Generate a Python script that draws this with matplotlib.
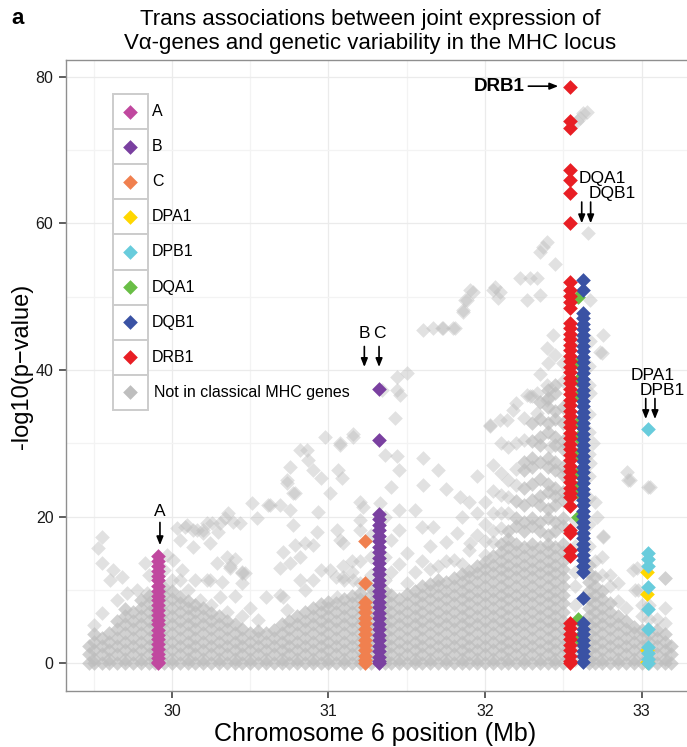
import matplotlib
matplotlib.use("Agg")
import matplotlib.pyplot as plt
from matplotlib.patches import Rectangle

plt.rcParams["font.family"] = ["Liberation Sans", "DejaVu Sans"]

# ---- classical MHC genes: position (Mb) and -log10(p) of their SNPs ----
gene_names = ["A", "B", "C", "DPA1", "DPB1", "DQA1", "DQB1", "DRB1"]
gene_colors = ["#C0489F", "#7A40A0", "#F0804F", "#FFD700",
               "#68CCDC", "#69BE46", "#3A52A4", "#E81E24"]
gene_pos = [29.909, 31.323, 31.235, 33.035, 33.040, 32.592, 32.624, 32.546]

A_vals = [14.6, 14.0, 13.3, 12.6, 11.9, 11.3, 10.6, 9.9, 9.2, 8.6, 7.9, 7.2,
          6.6, 5.9, 5.3, 4.6, 3.9, 3.3, 2.6, 2.0, 1.3, 0.7, 0.2, 0.0]
B_vals = [37.4, 30.4, 20.4, 19.7, 18.9, 18.2, 17.4, 16.7, 15.9, 15.2, 14.4,
          13.7, 12.9, 12.2, 11.4, 10.7, 9.9, 9.2, 8.4, 7.7, 6.9, 6.2, 5.4,
          4.7, 3.9, 3.2, 2.4, 1.7, 0.9, 0.3, 0.0]
C_vals = [16.7, 10.9, 8.4, 7.7, 7.0, 6.2, 5.5, 4.7, 4.0, 3.2, 2.5, 1.8, 1.0,
          0.4, 0.0]
DPA1_vals = [12.5, 9.5, 1.8, 0.2]
DPB1_vals = [32.0, 15.0, 14.2, 13.3, 10.4, 7.4, 4.7, 2.2, 1.4, 0.6, 0.0]
DQA1_vals = [50.0, 40.9, 38.6, 36.4, 32.7, 30.9, 28.6, 25.9, 24.1, 23.2, 20.0,
             6.1, 3.4]
DQB1_vals = [52.3, 50.9, 47.8, 47.1, 46.3, 45.6, 44.8, 44.1, 43.3, 42.6, 41.8,
             41.1, 40.3, 39.6, 38.8, 38.1, 37.3, 36.6, 35.8, 35.1, 34.3, 33.6,
             32.8, 32.1, 31.3, 30.6, 29.8, 29.1, 28.3, 27.6, 26.8, 26.1, 25.3,
             24.6, 23.8, 23.1, 22.3, 21.6, 20.8, 20.1, 19.3, 18.6, 17.8, 17.1,
             16.3, 15.6, 14.8, 14.1, 13.3, 12.4, 8.9, 5.5, 4.7, 4.0, 3.2, 2.5,
             1.7, 1.0, 0.2]
DRB1_vals = [78.6, 73.9, 73.0, 67.3, 65.9, 64.2, 60.1, 52.0, 50.9, 50.1, 49.3,
             48.5, 46.4, 45.7, 44.9, 44.2, 43.4, 42.7, 41.9, 41.2, 40.4, 39.7,
             38.9, 38.2, 37.4, 36.7, 35.9, 35.2, 34.4, 33.7, 32.9, 32.2, 31.4,
             30.7, 29.9, 29.2, 28.4, 27.7, 26.9, 26.2, 25.4, 24.7, 23.9, 23.2,
             22.7, 21.4, 18.2, 17.8, 15.5, 14.6, 5.5, 4.8, 4.0, 3.3, 2.5, 1.8,
             1.0, 0.3, 0.0]
gene_vals = [A_vals, B_vals, C_vals, DPA1_vals, DPB1_vals, DQA1_vals,
             DQB1_vals, DRB1_vals]

# ---- SNPs outside classical genes: dense low band, read column by column ----
floor_x = [29.47, 29.50, 29.55, 29.60, 29.65, 29.70, 29.75, 29.80, 29.85,
           29.89, 29.95, 30.00, 30.05, 30.10, 30.15, 30.20, 30.25, 30.30,
           30.35, 30.40, 30.45, 30.50, 30.55, 30.60, 30.65, 30.70, 30.75,
           30.80, 30.85, 30.90, 30.95, 31.00, 31.05, 31.10, 31.15, 31.20,
           31.27, 31.36, 31.40, 31.45, 31.50, 31.55, 31.60, 31.65, 31.70,
           31.75, 31.80, 31.85, 31.90, 31.95, 32.00, 32.05, 32.10, 32.15,
           32.20, 32.25, 32.30, 32.35, 32.40, 32.45, 32.50, 32.665, 32.70,
           32.75, 32.80, 32.85, 32.90, 32.95, 33.00, 33.05, 33.10, 33.15,
           33.19]
floor_y = [
    [0.0, 1.2, 2.3],
    [0.0, 0.6, 1.8, 2.9, 4.0],
    [0.0, 1.2, 2.3, 3.4],
    [0.0, 0.6, 1.8, 2.9, 4.1],
    [0.0, 1.2, 2.3, 3.5, 4.7, 5.7],
    [0.0, 0.6, 1.8, 2.9, 4.1, 5.3, 6.4, 7.4],
    [0.0, 1.2, 2.3, 3.5, 4.7, 5.8, 7.0],
    [0.0, 0.6, 1.8, 2.9, 4.1, 5.3, 6.4, 7.6, 8.6],
    [0.0, 1.2, 2.3, 3.5, 4.7, 5.8, 7.0, 8.2, 9.2],
    [0.0, 0.6, 1.8, 2.9, 4.1, 5.3, 6.4, 7.4],
    [0.0, 1.2, 2.3, 3.5, 4.7, 5.8, 7.0, 8.2, 9.3, 10.4],
    [0.0, 0.6, 1.8, 2.9, 4.1, 5.3, 6.4, 7.6, 8.8, 9.8],
    [0.0, 1.2, 2.3, 3.5, 4.7, 5.8, 7.0, 8.2, 9.1],
    [0.0, 0.6, 1.8, 2.9, 4.1, 5.3, 6.4, 7.6, 8.5],
    [0.0, 1.2, 2.3, 3.5, 4.7, 5.8, 7.0, 8.0],
    [0.0, 0.6, 1.8, 2.9, 4.1, 5.3, 6.4, 7.6],
    [0.0, 1.2, 2.3, 3.5, 4.7, 5.8, 6.9],
    [0.0, 0.6, 1.8, 2.9, 4.1, 5.3, 6.4],
    [0.0, 1.2, 2.3, 3.5, 4.7, 5.8],
    [0.0, 0.6, 1.8, 2.9, 4.1, 5.3],
    [0.0, 1.2, 2.3, 3.5, 4.7],
    [0.0, 0.6, 1.8, 2.9, 4.1],
    [0.0, 1.2, 2.3, 3.5, 4.4],
    [0.0, 0.6, 1.8, 2.9, 4.1],
    [0.0, 1.2, 2.3, 3.5, 4.6],
    [0.0, 0.6, 1.8, 2.9, 4.1, 5.3],
    [0.0, 1.2, 2.3, 3.5, 4.7, 5.8],
    [0.0, 0.6, 1.8, 2.9, 4.1, 5.3, 6.4],
    [0.0, 1.2, 2.3, 3.5, 4.7, 5.8, 7.0],
    [0.0, 0.6, 1.8, 2.9, 4.1, 5.3, 6.4, 7.5],
    [0.0, 1.2, 2.3, 3.5, 4.7, 5.8, 7.0, 8.1],
    [0.0, 0.6, 1.8, 2.9, 4.1, 5.3, 6.4, 7.6, 8.4],
    [0.0, 1.2, 2.3, 3.5, 4.7, 5.8, 7.0, 8.2],
    [0.0, 0.6, 1.8, 2.9, 4.1, 5.3, 6.4, 7.6, 8.8],
    [0.0, 1.2, 2.3, 3.5, 4.7, 5.8, 7.0, 8.2, 9.2],
    [0.0, 0.6, 1.8, 2.9, 4.1, 5.3, 6.4, 7.6, 8.8, 9.6],
    [0.0, 1.2, 2.3, 3.5, 4.7, 5.8, 7.0, 8.2, 9.3, 10.3],
    [0.0, 0.6, 1.8, 2.9, 4.1, 5.3, 6.4, 7.6, 8.8, 9.9],
    [0.0, 1.2, 2.3, 3.5, 4.7, 5.8, 7.0, 8.2, 9.3],
    [0.0, 0.6, 1.8, 2.9, 4.1, 5.3, 6.4, 7.6, 8.8],
    [0.0, 1.2, 2.3, 3.5, 4.7, 5.8, 7.0, 8.2, 9.4],
    [0.0, 0.6, 1.8, 2.9, 4.1, 5.3, 6.4, 7.6, 8.8, 9.9],
    [0.0, 1.2, 2.3, 3.5, 4.7, 5.8, 7.0, 8.2, 9.3, 10.5],
    [0.0, 0.6, 1.8, 2.9, 4.1, 5.3, 6.4, 7.6, 8.8, 9.9, 10.8],
    [0.0, 1.2, 2.3, 3.5, 4.7, 5.8, 7.0, 8.2, 9.3, 10.5, 11.3],
    [0.0, 0.6, 1.8, 2.9, 4.1, 5.3, 6.4, 7.6, 8.8, 9.9, 11.1],
    [0.0, 1.2, 2.3, 3.5, 4.7, 5.8, 7.0, 8.2, 9.3, 10.5, 11.6],
    [0.0, 0.6, 1.8, 2.9, 4.1, 5.3, 6.4, 7.6, 8.8, 9.9, 11.1, 12.2],
    [0.0, 1.2, 2.3, 3.5, 4.7, 5.8, 7.0, 8.2, 9.3, 10.5, 11.7, 12.6],
    [0.0, 0.6, 1.8, 2.9, 4.1, 5.3, 6.4, 7.6, 8.8, 9.9, 11.1, 12.3, 13.3],
    [0.0, 1.2, 2.3, 3.5, 4.7, 5.8, 7.0, 8.2, 9.3, 10.5, 11.7, 12.8, 13.8],
    [0.0, 0.6, 1.8, 2.9, 4.1, 5.3, 6.4, 7.6, 8.8, 9.9, 11.1, 12.3, 13.4,
     14.6],
    [0.0, 1.2, 2.3, 3.5, 4.7, 5.8, 7.0, 8.2, 9.3, 10.5, 11.7, 12.8, 14.0,
     15.2, 16.3],
    [0.0, 0.6, 1.8, 2.9, 4.1, 5.3, 6.4, 7.6, 8.8, 9.9, 11.1, 12.3, 13.4,
     14.6, 15.8, 16.9, 18.1],
    [0.0, 1.2, 2.3, 3.5, 4.7, 5.8, 7.0, 8.2, 9.3, 10.5, 11.7, 12.8, 14.0,
     15.2, 16.3, 18.7, 19.8, 22.1],
    [0.0, 0.6, 1.8, 2.9, 4.1, 5.3, 6.4, 7.6, 8.8, 9.9, 11.1, 12.3, 13.4,
     14.6, 15.8, 18.1, 19.3, 21.6, 23.9, 26.3, 27.4],
    [0.0, 1.2, 2.3, 3.5, 4.7, 5.8, 7.0, 8.2, 9.3, 10.5, 11.7, 12.8, 14.0,
     15.2, 16.3, 18.7, 19.8, 22.2, 24.5, 26.8, 28.0, 30.3, 32.7],
    [0.0, 0.6, 1.8, 2.9, 4.1, 5.3, 6.4, 7.6, 8.8, 9.9, 11.1, 12.3, 13.4,
     14.6, 15.8, 18.1, 19.3, 21.6, 22.8, 25.1, 27.4, 29.8, 30.9, 33.3,
     35.6],
    [0.0, 1.2, 2.3, 3.5, 4.7, 5.8, 7.0, 8.2, 9.3, 10.5, 11.7, 12.8, 14.0,
     15.2, 16.3, 17.5, 19.8, 21.0, 23.3, 24.5, 26.8, 28.0, 31.5, 32.7,
     35.0, 36.2, 37.3],
    [0.0, 0.6, 1.8, 2.9, 4.1, 5.3, 6.4, 7.6, 8.8, 9.9, 11.1, 12.3, 13.4,
     14.6, 15.8, 18.1, 19.3, 21.6, 22.8, 23.9, 26.3, 27.4, 29.8, 30.9,
     33.3, 34.4, 36.8, 37.9],
    [0.0, 1.2, 2.3, 3.5, 4.7, 5.8, 7.0, 8.2, 9.3, 10.5, 11.7, 12.8, 14.0,
     15.2, 16.3, 18.7, 19.8, 22.2, 23.3, 25.7, 26.8, 29.2, 30.3, 32.7,
     35.0],
    [0.0, 0.6, 1.8, 2.9, 4.1, 5.3, 6.4, 7.6, 8.8, 9.9, 11.1, 12.3, 13.4],
    [0.0, 1.2, 2.3, 3.5, 4.7, 5.8, 7.0, 8.2, 9.3, 10.5, 11.7],
    [0.0, 0.6, 1.8, 2.9, 4.1, 5.3, 6.4, 7.6, 8.8, 9.9],
    [0.0, 1.2, 2.3, 3.5, 4.7, 5.8, 7.0, 8.2],
    [0.0, 0.6, 1.8, 2.9, 4.1, 5.3, 6.4],
    [0.0, 1.2, 2.3, 3.5, 4.7, 5.8],
    [0.0, 0.6, 1.8, 2.9, 4.1, 5.0],
    [0.0, 1.2, 2.3, 3.5, 4.5],
    [0.0, 0.6, 1.8, 2.9, 4.0],
    [0.0, 1.2, 2.3, 3.5, 4.5],
    [0.0, 0.6, 1.8, 2.9, 4.0],
    [0.0, 1.2, 2.3],
]

# ---- sparser SNPs outside classical genes, (Mb, -log10 p) ----
grey_sparse_left = [
    (29.50, 5.2), (29.55, 6.8), (29.553, 17.2), (29.527, 15.7),
    (29.553, 13.7), (29.623, 12.7), (29.681, 11.8), (29.604, 11.4),
    (29.712, 9.6), (29.649, 8.6), (29.776, 10.0), (29.827, 13.7),
    (29.840, 9.6), (29.85, 12.0), (29.968, 14.8), (29.95, 12.7),
    (30.006, 14.1), (30.00, 11.4), (30.064, 12.7), (30.05, 11.4),
    (30.032, 18.5), (30.096, 18.9), (30.134, 18.2), (30.051, 16.8),
    (30.198, 17.8), (30.134, 15.9), (30.224, 19.1), (30.294, 17.9),
    (30.339, 19.8), (30.358, 20.5), (30.390, 19.3), (30.435, 19.1),
    (30.243, 16.4), (30.288, 13.7), (30.351, 14.5), (30.371, 13.0),
    (30.447, 12.3), (30.224, 11.4), (30.307, 9.0), (30.179, 8.6),
    (30.083, 18.6), (30.160, 18.2), (30.256, 19.1), (30.307, 19.1),
    (30.200, 18.2), (30.371, 13.2), (30.445, 12.5), (30.243, 11.4),
    (30.318, 11.1), (30.10, 10.0), (30.15, 11.4), (30.25, 8.0),
    (30.35, 7.0), (30.40, 9.2), (30.45, 6.5), (30.45, 11.0), (30.40, 14.2),
]
grey_sparse_mid = [
    (30.511, 21.9), (30.543, 19.8), (30.613, 21.6), (30.626, 21.6),
    (30.690, 21.6), (30.754, 20.9), (30.773, 18.9), (30.786, 23.2),
    (30.735, 24.6), (30.933, 20.6), (30.927, 17.9), (30.850, 16.4),
    (30.690, 13.0), (30.754, 13.7), (30.818, 11.4), (30.709, 9.0),
    (30.466, 12.3), (30.711, 15.2), (30.786, 16.1), (30.903, 16.1),
    (30.690, 9.3), (30.733, 7.3), (30.903, 11.4), (30.818, 14.5),
    (30.850, 10.0), (30.55, 5.9), (30.60, 9.0), (30.50, 7.5),
    (30.818, 29.1), (30.863, 29.1), (30.869, 27.7), (30.754, 26.8),
    (30.735, 25.0), (30.773, 23.2), (30.978, 30.9), (31.073, 29.7),
    (31.073, 30.1), (31.157, 30.9), (31.157, 31.2), (31.086, 25.3),
    (31.061, 26.4), (31.010, 23.2), (31.054, 18.2), (31.093, 16.4),
    (31.201, 18.2), (31.220, 21.3), (31.329, 21.9), (31.010, 12.7),
    (31.093, 11.8), (31.054, 9.0), (31.157, 11.4), (31.073, 16.8),
    (31.095, 13.2), (30.95, 12.7), (30.95, 25.3), (30.90, 26.4),
    (31.20, 11.0), (31.20, 14.0), (31.20, 19.5), (31.20, 22.0),
    (31.27, 12.0), (31.27, 14.5), (31.27, 17.5), (31.15, 12.5),
    (31.15, 14.0), (31.10, 11.4), (31.05, 11.8),
]
grey_sparse_right = [
    (31.36, 11.4), (31.36, 14.5), (31.36, 20.0), (31.36, 28.4),
    (31.40, 12.5), (31.40, 16.8), (31.40, 24.0), (31.45, 13.5),
    (31.45, 18.2), (31.45, 20.9), (31.45, 26.4), (31.438, 39.0),
    (31.502, 39.6), (31.438, 37.3), (31.457, 36.6), (31.425, 33.4),
    (31.342, 37.3), (31.438, 28.3), (31.50, 11.0), (31.50, 15.0),
    (31.55, 12.5), (31.55, 20.9), (31.604, 28.0), (31.604, 24.3),
    (31.60, 14.0), (31.60, 18.6), (31.65, 12.8), (31.65, 16.0),
    (31.668, 18.6), (31.70, 13.2), (31.70, 26.4), (31.75, 14.0),
    (31.75, 16.5), (31.75, 23.7), (31.80, 14.1), (31.821, 17.8),
    (31.840, 22.7), (31.85, 13.6), (31.85, 20.0), (31.904, 16.4),
    (31.90, 15.5), (31.90, 22.0), (31.95, 17.5), (31.95, 20.5),
    (31.95, 25.5), (32.00, 14.7), (32.00, 16.7), (32.00, 19.0),
    (32.00, 22.0), (32.032, 32.3), (32.032, 32.5), (32.05, 16.5),
    (32.05, 18.0), (32.05, 20.5), (32.05, 23.5), (32.05, 27.0),
    (32.096, 33.2), (32.10, 18.5), (32.10, 20.5), (32.10, 23.0),
    (32.10, 26.0), (32.10, 30.0), (32.141, 33.2), (32.15, 20.5),
    (32.15, 22.7), (32.15, 25.0), (32.15, 29.5), (32.18, 34.5),
    (32.20, 24.3), (32.20, 26.5), (32.20, 30.0), (32.20, 35.5),
    (32.268, 36.6), (32.25, 30.5), (32.25, 33.5), (32.288, 36.4),
    (32.30, 36.5), (32.332, 34.1), (32.332, 36.8), (32.35, 39.5),
    (32.396, 38.0), (32.396, 35.9), (32.40, 41.0), (32.415, 29.5),
    (32.45, 42.0), (32.50, 38.5), (32.50, 41.0),
    (31.604, 45.5), (31.668, 45.7), (31.725, 45.7), (31.732, 45.7),
    (31.796, 45.7), (31.808, 45.7), (31.859, 48.2), (31.859, 47.9),
    (31.872, 49.5), (31.885, 49.6), (31.904, 50.9), (31.923, 50.6),
    (32.051, 50.9), (32.064, 51.3), (32.083, 49.8), (32.096, 50.6),
    (32.224, 52.5), (32.288, 52.5), (32.332, 52.5), (32.268, 49.5),
    (32.351, 50.2), (32.351, 56.1), (32.371, 56.8), (32.396, 57.4),
    (32.434, 44.8), (32.396, 43.0), (32.45, 54.4),
]
grey_sparse_far = [
    (32.586, 73.9), (32.607, 74.3), (32.628, 75.0), (32.650, 75.2),
    (32.658, 58.7), (32.671, 49.5), (32.754, 44.8), (32.748, 42.3),
    (32.735, 42.4), (32.671, 44.0), (32.671, 36.9), (32.690, 30.0),
    (32.671, 27.3), (32.716, 20.0), (32.754, 17.4), (32.754, 17.2),
    (32.907, 26.1), (32.914, 25.0), (32.927, 25.0), (33.042, 24.1),
    (33.054, 24.1), (32.971, 13.0), (32.946, 12.7), (33.150, 11.6),
    (33.150, 11.6), (32.978, 10.0), (32.958, 10.0),
    (32.665, 16.0), (32.665, 19.0), (32.665, 22.5), (32.665, 25.5),
    (32.665, 28.5), (32.665, 31.5), (32.665, 34.0), (32.665, 38.0),
    (32.665, 40.5), (32.575, 44.0), (32.575, 41.0), (32.575, 37.5),
    (32.575, 33.0), (32.575, 29.0), (32.575, 26.0), (32.575, 23.0),
    (32.575, 19.5), (32.575, 16.0), (32.575, 12.5), (32.575, 10.5),
    (32.575, 8.0), (32.575, 5.5), (32.575, 3.5), (32.575, 2.0),
    (32.575, 0.5), (32.70, 14.0), (32.70, 22.0), (32.75, 12.0),
    (32.75, 14.5), (32.80, 10.5), (32.80, 12.0), (32.85, 8.5),
    (32.85, 11.0), (32.90, 7.5), (33.00, 6.5), (33.00, 8.0), (33.05, 6.0),
    (33.05, 8.0), (33.10, 6.0), (33.15, 5.5), (33.15, 7.5),
]

legend_labels = gene_names + ["Not in classical MHC genes"]
GREY = "#BEBEBE"
legend_colors = gene_colors + [GREY]

assert len(floor_x) == len(floor_y)

W, H = 687, 747
MS = 56  # marker area (pt^2)

fig = plt.figure(figsize=(W / 100, H / 100), dpi=100)
ax = fig.add_axes([66 / W, 1 - 691 / H, 623 / W, 631 / H])

# grey background cloud: sparse points first, heavily overplotted band on top
sx, sy = [], []
for pts in (grey_sparse_left, grey_sparse_mid, grey_sparse_right,
            grey_sparse_far):
    sx += [p[0] for p in pts]
    sy += [p[1] for p in pts]
ax.scatter(sx, sy, s=MS, marker="D", color=GREY, alpha=0.45,
           linewidths=0, zorder=2)

fx, fy = [], []
for x, ys in zip(floor_x, floor_y):
    fx += [x] * len(ys)
    fy += ys
ax.scatter(fx, fy, s=MS, marker="D", color=GREY, alpha=0.7,
           linewidths=0, zorder=2)

# classical genes on top
for color, pos, vals in zip(gene_colors, gene_pos, gene_vals):
    ax.scatter([pos] * len(vals), vals, s=MS, marker="D", color=color,
               linewidths=0, zorder=3)

ax.set_xlim(29.3227, 33.3035)
ax.set_ylim(-3.78, 82.27)
ax.set_xticks([30, 31, 32, 33])
ax.set_xticks([29.5, 30.5, 31.5, 32.5], minor=True)
ax.set_yticks([0, 20, 40, 60, 80])
ax.set_yticks([10, 30, 50, 70], minor=True)
ax.grid(which="major", color="#EBEBEB", lw=0.9)
ax.grid(which="minor", color="#F3F3F3", lw=0.9)
ax.set_axisbelow(True)
ax.tick_params(which="major", direction="out", length=5, width=1.1,
               color="#333333", labelsize=11.5, pad=4, labelcolor="#1A1A1A")
ax.tick_params(which="minor", length=0)
for sp in ax.spines.values():
    sp.set_color("#8F8F8F")
    sp.set_linewidth(1.0)

# annotations (arrows point at the gene columns)
arrow = dict(arrowstyle="-|>,head_length=0.5,head_width=0.2", lw=1.2,
             color="black", shrinkA=0, shrinkB=0)
ax.annotate("", xy=(32.468, 78.7), xytext=(32.277, 78.7), arrowprops=arrow)
ax.text(32.256, 78.7, "DRB1", ha="right", va="center", fontsize=13.5,
        fontweight="bold")
for x0, y_tail, y_tip in [(29.923, 19.2, 16.1), (31.229, 43.2, 40.4),
                          (31.323, 43.2, 40.4), (32.618, 62.9, 60.0),
                          (32.675, 62.9, 60.0), (33.027, 36.1, 33.3),
                          (33.086, 36.1, 33.3)]:
    ax.annotate("", xy=(x0, y_tip), xytext=(x0, y_tail), arrowprops=arrow)
ax.text(29.923, 20.7, "A", ha="center", va="center", fontsize=12.5)
ax.text(31.229, 45.0, "B", ha="center", va="center", fontsize=12.5)
ax.text(31.323, 45.0, "C", ha="center", va="center", fontsize=12.5)
ax.text(32.596, 66.1, "DQA1", ha="left", va="center", fontsize=12.5)
ax.text(32.660, 64.0, "DQB1", ha="left", va="center", fontsize=12.5)
ax.text(33.069, 39.3, "DPA1", ha="center", va="center", fontsize=12.5)
ax.text(33.133, 37.2, "DPB1", ha="center", va="center", fontsize=12.5)

# titles and axis labels
fig.text(370 / W, 1 - 19 / H,
         "Trans associations between joint expression of",
         ha="center", va="center", fontsize=16)
fig.text(370 / W, 1 - 43 / H,
         "V\u03b1-genes and genetic variability in the MHC locus",
         ha="center", va="center", fontsize=16)
fig.text(11 / W, 1 - 18 / H, "a", ha="left", va="center", fontsize=16,
         fontweight="bold")
fig.text(375 / W, 1 - 734 / H, "Chromosome 6 position (Mb)",
         ha="center", va="center", fontsize=18)
fig.text(22 / W, 1 - 366 / H, "-log10(p\u2212value)", ha="center",
         va="center", rotation=90, fontsize=17)

# legend drawn in figure pixels
lay = fig.add_axes([0, 0, 1, 1], zorder=5)
lay.set_xlim(0, W)
lay.set_ylim(H, 0)
lay.axis("off")
for i, (name, color) in enumerate(zip(legend_labels, legend_colors)):
    top = 94 + 35.1 * i
    lay.add_patch(Rectangle((112.5, top), 35.2, 35.1, facecolor="white",
                            edgecolor="#CCCCCC", lw=1.4))
    lay.scatter([130], [top + 17.55], marker="D", s=MS, color=color,
                linewidths=0)
    lay.text(152 if i < 8 else 154, top + 17.55, name, ha="left",
             va="center", fontsize=11.5)

fig.savefig("out.png", dpi=100)
